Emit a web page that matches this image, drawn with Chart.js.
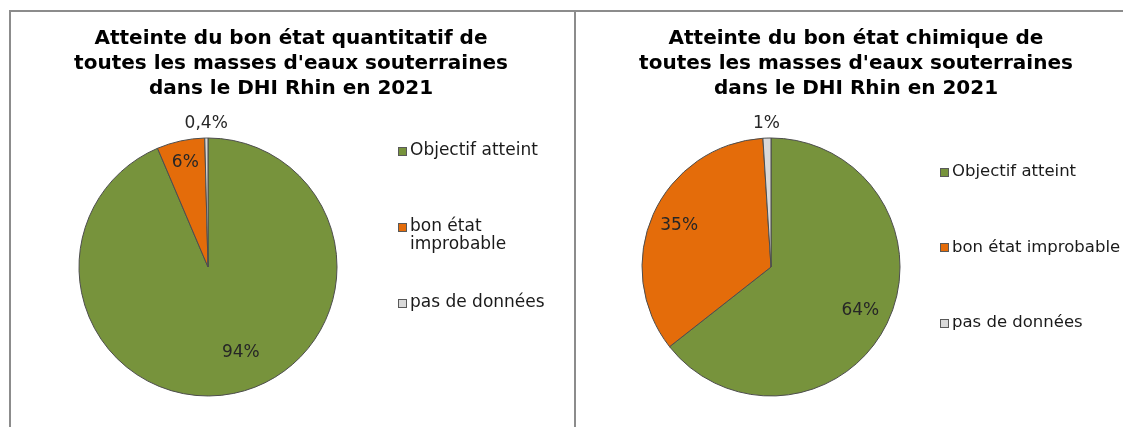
<!DOCTYPE html>
<html lang="fr">
<head>
<meta charset="utf-8">
<script src="https://cdn.jsdelivr.net/npm/chart.js@4.4.0/dist/chart.umd.min.js"></script>
<style>
  html, body { margin: 0; padding: 0; background: #fff; }
  #wrap { position: relative; width: 1123px; height: 427px; overflow: hidden; }
  .frame { position: absolute; background: #8c8c8c; }
  .panel { position: absolute; top: 12px; height: 415px; }
</style>
</head>
<body>
<div id="wrap">
  <div class="frame" style="left:9px;top:10px;width:1114px;height:2px"></div>
  <div class="frame" style="left:9px;top:10px;width:2px;height:417px"></div>
  <div class="frame" style="left:574px;top:10px;width:2px;height:417px"></div>
  <div class="panel" style="left:11px;width:563px"><canvas id="quantChart"></canvas></div>
  <div class="panel" style="left:576px;width:547px"><canvas id="chemChart"></canvas></div>
</div>
<script>
// ── DATA ────────────────────────────────────────────────
const CATEGORIES   = ['Objectif atteint', 'bon état improbable', 'pas de données'];
const QUANT_VALUES = [93.6, 6.0, 0.4];   // % des masses d'eau, état quantitatif
const CHEM_VALUES  = [64.4, 34.6, 1.0];  // % des masses d'eau, état chimique
const QUANT_TITLE  = ['Atteinte du bon état quantitatif de', "toutes les masses d'eaux souterraines", 'dans le DHI Rhin en 2021'];
const CHEM_TITLE   = ['Atteinte du bon état chimique de', "toutes les masses d'eaux souterraines", 'dans le DHI Rhin en 2021'];

const SLICE_COLORS = ['#77933C', '#E46C0A', '#D9D9D9'];
const FONT = "'DejaVu Sans', Verdana, sans-serif";

// ── HELPERS ─────────────────────────────────────────────
function pctText(v, total) {
  const p = v / total * 100;
  return (p < 1 ? p.toFixed(1).replace('.', ',') : Math.round(p)) + '%';
}

function wrapText(ctx, text, maxWidth) {
  const words = text.split(' ');
  const lines = [];
  let line = '';
  words.forEach(w => {
    const test = line ? line + ' ' + w : w;
    if (line && ctx.measureText(test).width > maxWidth) { lines.push(line); line = w; }
    else line = test;
  });
  if (line) lines.push(line);
  return lines;
}

// ── PLUGINS ─────────────────────────────────────────────
const panelTitle = {
  id: 'panelTitle',
  afterDraw(chart, args, o) {
    const ctx = chart.ctx;
    ctx.save();
    ctx.font = `bold ${o.size}px ${FONT}`;
    ctx.fillStyle = o.color;
    ctx.textAlign = 'center';
    ctx.textBaseline = 'alphabetic';
    o.lines.forEach((t, i) => ctx.fillText(t, o.x, o.baseline + i * o.lineHeight));
    ctx.restore();
  },
};

const sideLegend = {
  id: 'sideLegend',
  afterDraw(chart, args, o) {
    const ctx = chart.ctx;
    const ds = chart.data.datasets[0];
    ctx.save();
    ctx.font = `${o.size}px ${FONT}`;
    ctx.textBaseline = 'middle';
    ctx.textAlign = 'left';
    chart.data.labels.forEach((label, i) => {
      const y = o.top + i * o.step;
      const bx = o.x, by = Math.round(y - o.box / 2);
      ctx.fillStyle = ds.backgroundColor[i];
      ctx.fillRect(bx, by, o.box, o.box);
      ctx.strokeStyle = '#595959';
      ctx.lineWidth = 1;
      ctx.strokeRect(bx + 0.5, by + 0.5, o.box - 1, o.box - 1);
      ctx.fillStyle = o.color;
      wrapText(ctx, label, o.maxWidth).forEach((line, j) =>
        ctx.fillText(line, bx + o.box + o.gap, y + j * o.lineHeight));
    });
    ctx.restore();
  },
};

const sliceLabels = {
  id: 'sliceLabels',
  afterDatasetsDraw(chart, args, o) {
    const ctx = chart.ctx;
    const meta = chart.getDatasetMeta(0);
    const values = chart.data.datasets[0].data;
    const total = values.reduce((a, b) => a + b, 0);
    ctx.save();
    ctx.font = `${o.size}px ${FONT}`;
    ctx.fillStyle = o.color;
    ctx.textAlign = 'center';
    ctx.textBaseline = 'middle';
    meta.data.forEach((arc, i) => {
      const { x, y, startAngle, endAngle, outerRadius } =
        arc.getProps(['x', 'y', 'startAngle', 'endAngle', 'outerRadius'], true);
      const mid = (startAngle + endAngle) / 2 + (o.turn[i] || 0) * Math.PI / 180;
      const r = outerRadius * o.radius[i];
      ctx.fillText(pctText(values[i], total), x + Math.cos(mid) * r, y + Math.sin(mid) * r);
    });
    ctx.restore();
  },
};

// ── BUILD ───────────────────────────────────────────────
function renderPie(canvasId, values, title, padding, legendOpts, labelOpts) {
  const ctx = document.getElementById(canvasId).getContext('2d');
  return new Chart(ctx, {
    type: 'pie',
    data: {
      labels: CATEGORIES,
      datasets: [{
        data: values,
        backgroundColor: SLICE_COLORS,
        borderColor: '#4d4d4d',
        borderWidth: 1,
      }],
    },
    options: {
      responsive: true,
      maintainAspectRatio: false,
      animation: false,
      radius: 129,
      layout: { padding },
      plugins: {
        legend: { display: false },
        tooltip: { enabled: false },
        panelTitle: { lines: title, x: 280, baseline: 32, lineHeight: 25, size: 20, color: '#000' },
        sideLegend: { size: 17, color: '#1a1a1a', box: 9, gap: 3, lineHeight: 18, ...legendOpts },
        sliceLabels: { size: 17, color: '#262626', ...labelOpts },
      },
    },
    plugins: [panelTitle, sideLegend, sliceLabels],
  });
}

renderPie('quantChart', QUANT_VALUES, QUANT_TITLE,
  { left: 67, right: 236, top: 125, bottom: 30 },
  { x: 387, top: 139, step: 76, maxWidth: 150 },
  { radius: [0.71, 0.83, 1.11], turn: [-9.5, 0, 0] });

renderPie('chemChart', CHEM_VALUES, CHEM_TITLE,
  { left: 65, right: 222, top: 125, bottom: 30 },
  { x: 364, top: 160, step: 75.5, maxWidth: 400, size: 16.5 },
  { radius: [0.77, 0.78, 1.11], turn: [0, 0, 0] });
</script>
</body>
</html>
